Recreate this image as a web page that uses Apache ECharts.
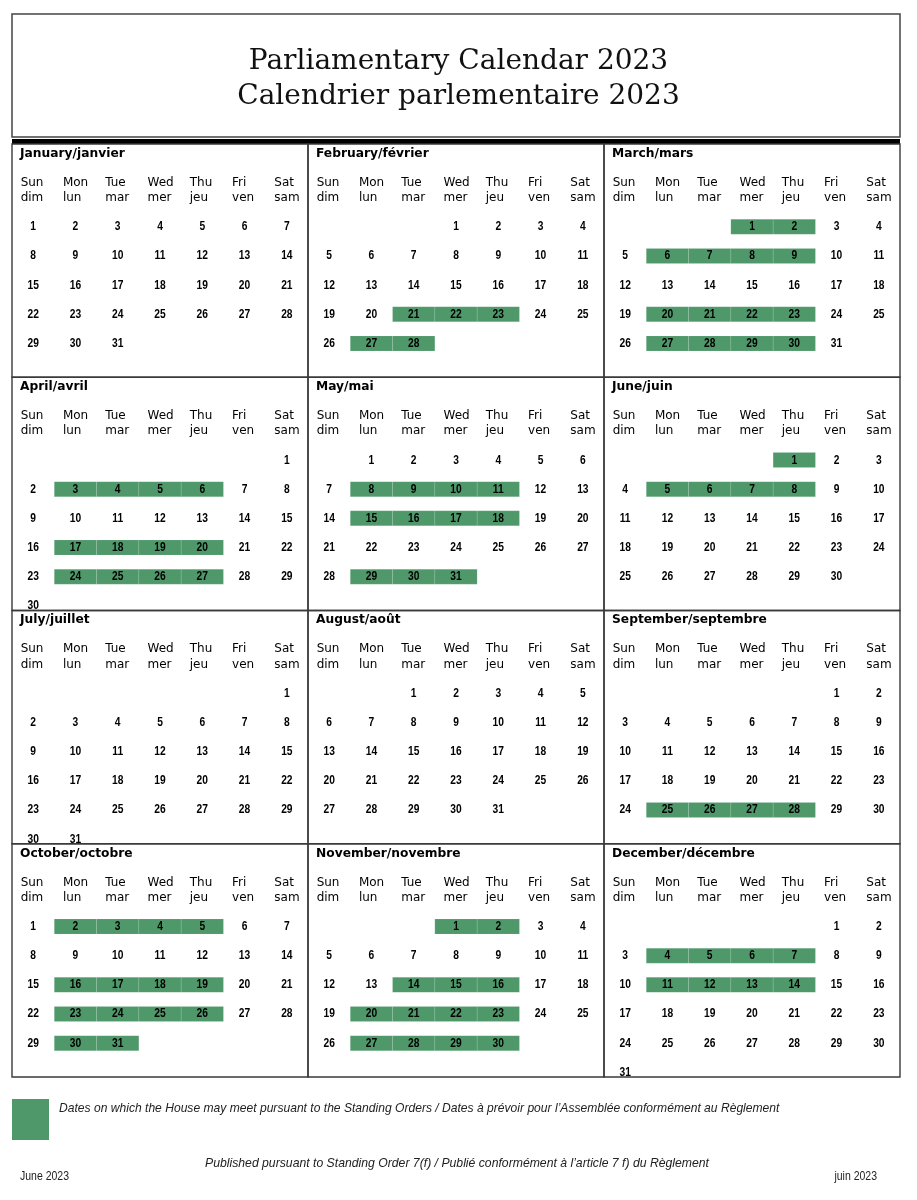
<!DOCTYPE html>
<html>
<head>
<meta charset="UTF-8"/>
<title>Parliamentary Calendar 2023</title>
<script src="https://cdn.jsdelivr.net/npm/echarts@6/dist/echarts.min.js"></script>
<style>
  html, body { margin: 0; padding: 0; background: #fff; }
  #placeholder { width: 917px; height: 1200px; }
</style>
</head>
<body>
<div id="placeholder"></div>
<script type="text/javascript">
// data
var YEAR = 2023;
var monthNames = ['January/janvier', 'February/février', 'March/mars', 'April/avril', 'May/mai', 'June/juin',
  'July/juillet', 'August/août', 'September/septembre', 'October/octobre', 'November/novembre', 'December/décembre'];
var dayNamesEn = ['Sun', 'Mon', 'Tue', 'Wed', 'Thu', 'Fri', 'Sat'];
var dayNamesFr = ['dim', 'lun', 'mar', 'mer', 'jeu', 'ven', 'sam'];
// sitting days (green) per month
var sittingDays = [
  [],
  [21, 22, 23, 27, 28],
  [1, 2, 6, 7, 8, 9, 20, 21, 22, 23, 27, 28, 29, 30],
  [3, 4, 5, 6, 17, 18, 19, 20, 24, 25, 26, 27],
  [8, 9, 10, 11, 15, 16, 17, 18, 29, 30, 31],
  [1, 5, 6, 7, 8],
  [],
  [],
  [25, 26, 27, 28],
  [2, 3, 4, 5, 16, 17, 18, 19, 23, 24, 25, 26, 30, 31],
  [1, 2, 14, 15, 16, 20, 21, 22, 23, 27, 28, 29, 30],
  [4, 5, 6, 7, 11, 12, 13, 14]
];

var GREEN = '#4f986a';
var NARROW = '"Liberation Sans Narrow", "Arial Narrow", "Liberation Sans", sans-serif';
// rows inside one month panel (in axis units, panel = 8 units)
var TITLE_Y = 0.33, HEAD1_Y = 1.33, HEAD2_Y = 1.85, DATE_Y0 = 2.84;

var panels = [], titles = [], heads = [], dates = [], sits = [];
for (var m = 0; m < 12; m++) {
  var pc = m % 3, pr = Math.floor(m / 3);
  panels.push([pc, pr]);
  titles.push({ value: [pc * 7, pr * 8 + TITLE_Y], text: monthNames[m] });
  for (var c = 0; c < 7; c++) {
    heads.push({ value: [pc * 7 + c + 0.5, pr * 8 + HEAD1_Y], text: dayNamesEn[c] });
    heads.push({ value: [pc * 7 + c + 0.5, pr * 8 + HEAD2_Y], text: dayNamesFr[c] });
  }
  var first = new Date(YEAR, m, 1).getDay();
  var nDays = new Date(YEAR, m + 1, 0).getDate();
  for (var d = 1; d <= nDays; d++) {
    var idx = first + d - 1;
    var pt = [pc * 7 + (idx % 7) + 0.5, pr * 8 + DATE_Y0 + Math.floor(idx / 7)];
    dates.push({ value: pt, text: String(d) });
    if (sittingDays[m].indexOf(d) >= 0) sits.push(pt);
  }
}

function textItem(list, font, align, dx, sx) {
  return function (params, api) {
    var p = api.coord([api.value(0), api.value(1)]);
    return {
      type: 'text',
      x: p[0] + dx, y: p[1], scaleX: sx,
      style: { text: list[params.dataIndex].text, font: font, fill: '#000', align: align, verticalAlign: 'middle' }
    };
  };
}

var myChart = echarts.init(document.getElementById('placeholder'), null, { renderer: 'canvas' });
var option = {
  animation: false,
  title: {
    text: 'Parliamentary Calendar 2023\nCalendrier parlementaire 2023',
    left: 'center', top: 39,
    textStyle: { fontFamily: 'DejaVu Serif', fontSize: 28, fontWeight: 'normal', color: '#111', lineHeight: 35 }
  },
  grid: { left: 12, top: 144, width: 888, height: 933 },
  xAxis: { type: 'value', min: 0, max: 21, show: false },
  yAxis: { type: 'value', min: 0, max: 32, inverse: true, show: false },
  graphic: [
    { type: 'rect', shape: { x: 12, y: 14, width: 888, height: 123 }, style: { fill: 'none', stroke: '#444', lineWidth: 1.5 } },
    { type: 'rect', shape: { x: 12, y: 139, width: 888, height: 5 }, style: { fill: '#000' } },
    { type: 'rect', shape: { x: 12, y: 1099, width: 37, height: 41 }, style: { fill: GREEN } },
    { type: 'text', x: 59, y: 1108, scaleX: 0.93, style: { text: 'Dates on which the House may meet pursuant to the Standing Orders / Dates à prévoir pour l\u2019Assemblée conformément au Règlement',
      font: 'italic 13px ' + NARROW, fill: '#222', verticalAlign: 'middle' } },
    { type: 'text', x: 457, y: 1163, scaleX: 0.94, style: { text: 'Published pursuant to Standing Order 7(f) / Publié conformément à l\u2019article 7 f) du Règlement',
      font: 'italic 13px ' + NARROW, fill: '#222', align: 'center', verticalAlign: 'middle' } },
    { type: 'text', x: 20, y: 1177, scaleX: 0.84, style: { text: 'June 2023',
      font: '12.5px ' + NARROW, fill: '#222', verticalAlign: 'middle' } },
    { type: 'text', x: 877, y: 1177, scaleX: 0.84, style: { text: 'juin 2023',
      font: '12.5px ' + NARROW, fill: '#222', align: 'right', verticalAlign: 'middle' } }
  ],
  series: [
    {
      name: 'sitting', type: 'custom', data: sits, z: 1,
      renderItem: function (params, api) {
        var p = api.coord([api.value(0), api.value(1)]);
        var w = api.size([1, 1])[0];
        return { type: 'rect', shape: { x: p[0] - w / 2, y: p[1] - 7.5, width: w, height: 15 },
          style: { fill: GREEN, stroke: 'rgba(255,255,255,0.1)', lineWidth: 1 } };
      }
    },
    {
      name: 'panels', type: 'custom', data: panels, z: 2,
      renderItem: function (params, api) {
        var a = api.coord([api.value(0) * 7, api.value(1) * 8]);
        var b = api.coord([api.value(0) * 7 + 7, api.value(1) * 8 + 8]);
        return { type: 'rect', shape: { x: a[0], y: a[1], width: b[0] - a[0], height: b[1] - a[1] },
          style: { fill: 'none', stroke: '#3a3a3a', lineWidth: 1.4 } };
      }
    },
    {
      name: 'months', type: 'custom', data: titles, z: 3,
      renderItem: textItem(titles, 'bold 12.5px "DejaVu Sans", Verdana, sans-serif', 'left', 8, 0.98)
    },
    {
      name: 'days', type: 'custom', data: heads, z: 3,
      renderItem: textItem(heads, '12px "DejaVu Sans", Verdana, sans-serif', 'left', -12.5, 1)
    },
    {
      name: 'dates', type: 'custom', data: dates, z: 3,
      renderItem: textItem(dates, 'bold 12.5px ' + NARROW, 'center', 0, 0.82)
    }
  ]
};
myChart.setOption(option, true);
</script>
</body>
</html>
